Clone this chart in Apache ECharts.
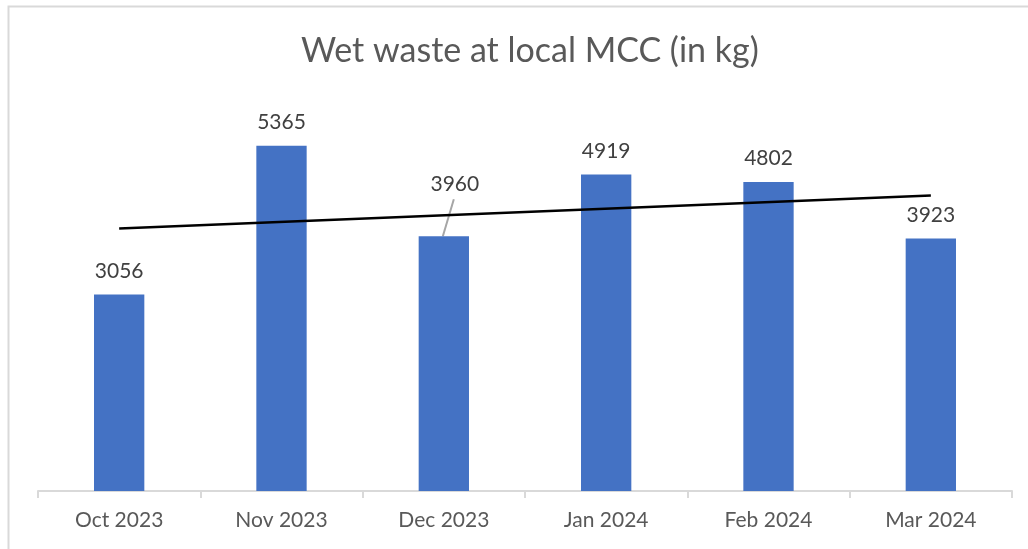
<!DOCTYPE html>
<html>
<head>
<meta charset="utf-8">
<script src="https://cdn.jsdelivr.net/npm/echarts@6/dist/echarts.min.js"></script>
<style>
	html, body {
		margin: 0;
		padding: 0;
		background: #fff;
	}

	#main {
		width: 1028px;
		height: 549px;
	}
</style>
</head>
<body>
<div id="main"></div>
<script>
	// 月份
	var months = ['Oct 2023', 'Nov 2023', 'Dec 2023', 'Jan 2024', 'Feb 2024', 'Mar 2024'];
	// wet waste (kg)
	var wetWaste = [3056, 5365, 3960, 4919, 4802, 3923];
	// linear trend, read at first and last month
	var trendStart = 4080;
	var trendEnd = 4595;

	var trend = months.map(function (m, i) {
		if (i === 0) return trendStart;
		if (i === months.length - 1) return trendEnd;
		return null;
	});

	var font = 'Lato, "Open Sans", sans-serif';
	var chart = echarts.init(document.getElementById('main'));
	var option = {
		backgroundColor: '#fff',
		animation: false,
		title: {
			text: 'Wet waste at local MCC (in kg)',
			left: 296,
			top: 29,
			textStyle: {
				fontFamily: font,
				fontSize: 34,
				fontWeight: 'normal',
				color: '#595959'
			}
		},
		grid: {
			left: 38,
			right: 16,
			top: 105,
			bottom: 58
		},
		xAxis: {
			type: 'category',
			data: months,
			axisLine: { lineStyle: { color: '#d9d9d9', width: 2 } },
			axisTick: { show: true, length: 7, lineStyle: { color: '#d9d9d9', width: 2 } },
			axisLabel: {
				fontFamily: font,
				fontSize: 21,
				color: '#595959',
				margin: 19
			}
		},
		yAxis: {
			type: 'value',
			min: 0,
			max: 6000,
			show: false
		},
		series: [
			{
				type: 'bar',
				data: wetWaste,
				barWidth: '31%',
				itemStyle: { color: '#4472C4' },
				label: {
					show: true,
					position: 'top',
					distance: 13,
					fontFamily: font,
					fontSize: 21,
					color: '#404040'
				},
				// Dec label sits above the trend line
				labelLayout: function (params) {
					if (params.dataIndex === 2) {
						return { dx: 11, dy: -29 };
					}
					return {};
				}
			},
			{
				type: 'line',
				data: trend,
				connectNulls: true,
				symbol: 'none',
				lineStyle: { color: '#000', width: 2.5 },
				z: 3
			}
		]
	};
	chart.setOption(option);

	// chart frame + leader line for the Dec label
	var p = chart.convertToPixel({ xAxisIndex: 0, yAxisIndex: 0 }, [2, wetWaste[2]]);
	chart.setOption({
		graphic: [
			{
				type: 'rect',
				shape: { x: 8.5, y: 6.5, width: 1100, height: 600 },
				style: { fill: null, stroke: '#d9d9d9', lineWidth: 2 },
				silent: true
			},
			{
				type: 'line',
				shape: { x1: p[0] - 1, y1: p[1], x2: p[0] + 10, y2: p[1] - 37 },
				style: { stroke: '#a6a6a6', lineWidth: 2 },
				z: 2,
				silent: true
			}
		]
	});
</script>
</body>
</html>
